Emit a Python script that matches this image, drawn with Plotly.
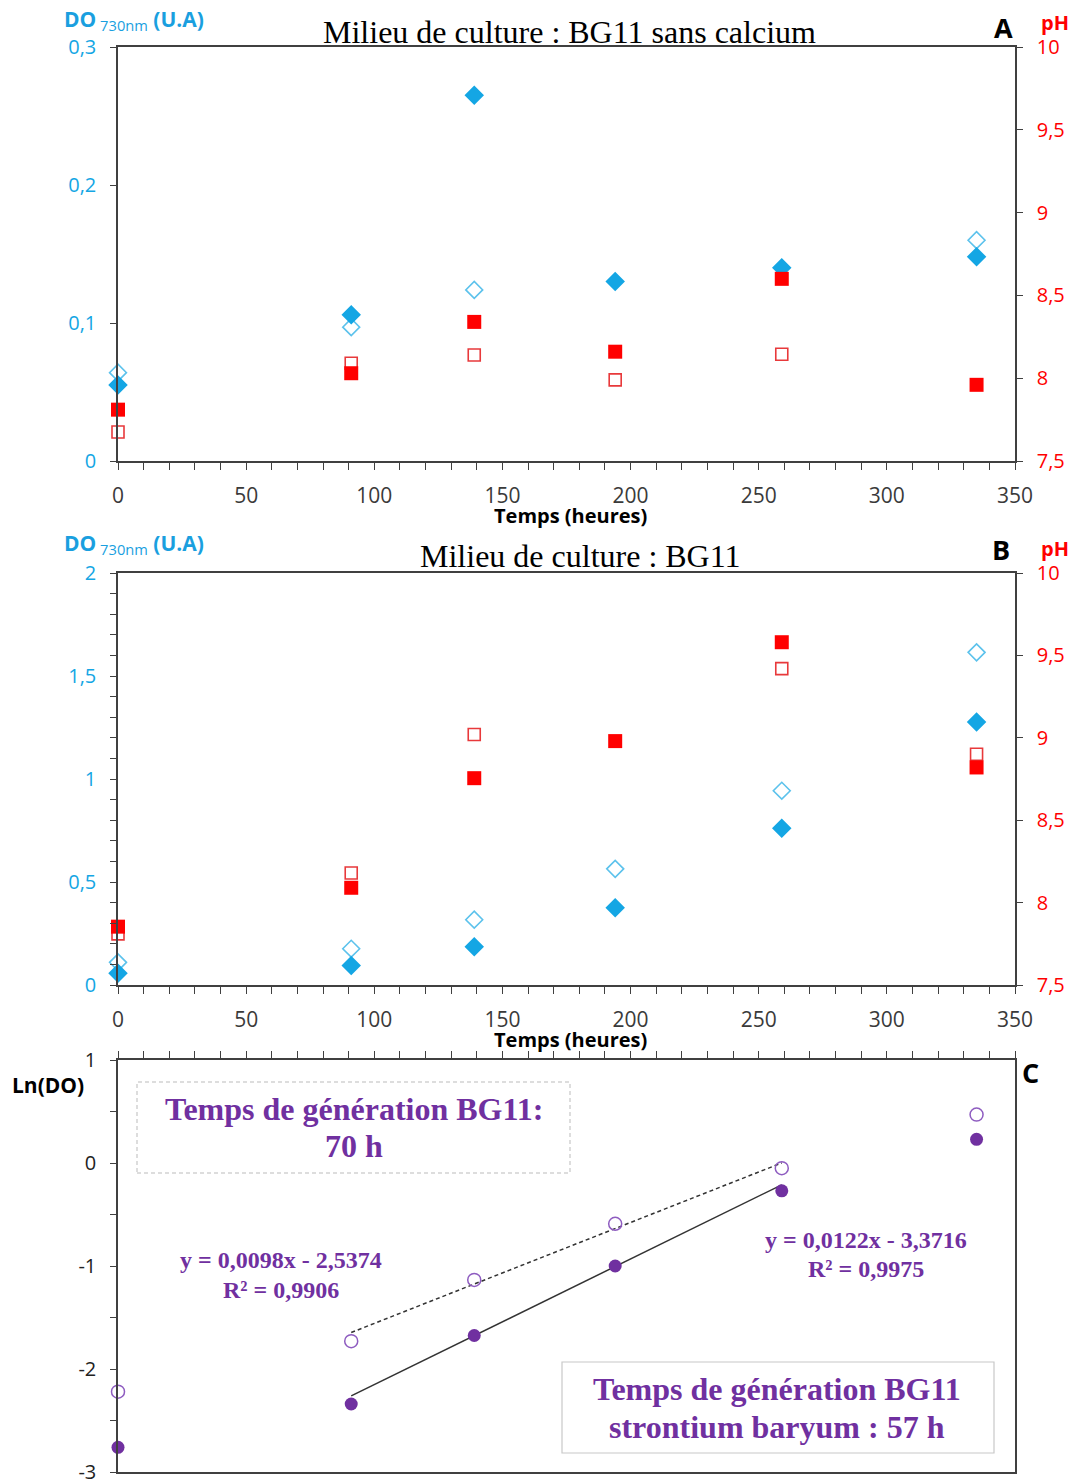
import plotly.graph_objects as go

# ---------------- data ----------------
time_h = [0, 91, 139, 194, 259, 335]

# Panel A : BG11 sans calcium
do_A_filled = [0.055, 0.106, 0.265, 0.130, 0.140, 0.148]
do_A_open = [0.064, 0.097, 0.124, None, None, 0.160]
ph_A_filled = [7.81, 8.03, 8.34, 8.16, 8.60, 7.96]
ph_A_open = [7.675, 8.09, 8.14, 7.99, 8.145, None]

# Panel B : BG11
do_B_filled = [0.057, 0.095, 0.186, 0.375, 0.761, 1.277]
do_B_open = [0.110, 0.176, 0.317, 0.564, 0.943, 1.615]
ph_B_filled = [7.854, 8.09, 8.755, 8.98, 9.58, 8.82]
ph_B_open = [7.81, 8.18, 9.02, None, 9.42, 8.90]

# Panel C : Ln(DO)
ln_open = [-2.22, -1.73, -1.135, -0.59, -0.05, 0.47]
ln_filled = [-2.76, -2.34, -1.675, -1.00, -0.27, 0.23]

# trend lines (from displayed equations), fitted on 91..259 h
fit_x = [91, 259]
slope_open, icpt_open = 0.0098, -2.5374
slope_filled, icpt_filled = 0.0122, -3.3716

x_ticks = [0, 50, 100, 150, 200, 250, 300, 350]
yA_ticks = [0, 0.1, 0.2, 0.3]
yA_text = ["0", "0,1", "0,2", "0,3"]
yB_ticks = [0, 0.5, 1, 1.5, 2]
yB_text = ["0", "0,5", "1", "1,5", "2"]
ph_ticks = [7.5, 8, 8.5, 9, 9.5, 10]
ph_text = ["7,5", "8", "8,5", "9", "9,5", "10"]
yC_ticks = [-3, -2, -1, 0, 1]
yC_text = ["-3", "-2", "-1", "0", "1"]

# ---------------- layout helpers ----------------
W, H = 1075, 1481
def px(x):
    return x / W
def py(y):
    return 1 - y / H

XL, XR = 118, 1015
A_T, A_B = 47, 461
B_T, B_B = 573, 985
C_T, C_B = 1060, 1472

BLUE = "#14A6E4"
BLUE_L = "#5CC2EC"
RED = "#FF0000"
RED_L = "#E8393B"
PURPLE = "#7030A0"
PURPLE_L = "#8E5CC0"
AX = "#404040"
SANS = "Open Sans"
SERIF = "Liberation Serif"

fig = go.Figure()

def dia(x, y, xa, ya, filled):
    fig.add_trace(go.Scatter(
        x=x, y=y, xaxis=xa, yaxis=ya, mode="markers", cliponaxis=False,
        showlegend=False,
        marker=dict(symbol="diamond" if filled else "diamond-open",
                    size=15 if filled else 13,
                    color=BLUE if filled else BLUE_L,
                    line=dict(width=0 if filled else 1.6,
                              color=BLUE if filled else BLUE_L))))

def sq(x, y, xa, ya, filled):
    fig.add_trace(go.Scatter(
        x=x, y=y, xaxis=xa, yaxis=ya, mode="markers", cliponaxis=False,
        showlegend=False,
        marker=dict(symbol="square" if filled else "square-open",
                    size=14 if filled else 12,
                    color=RED if filled else RED_L,
                    line=dict(width=0 if filled else 1.6,
                              color=RED if filled else RED_L))))

# Panel A
dia(time_h, do_A_open, "x", "y", False)
dia(time_h, do_A_filled, "x", "y", True)
sq(time_h, ph_A_open, "x", "y2", False)
sq(time_h, ph_A_filled, "x", "y2", True)
# Panel B
dia(time_h, do_B_open, "x2", "y3", False)
dia(time_h, do_B_filled, "x2", "y3", True)
sq(time_h, ph_B_open, "x2", "y4", False)
sq(time_h, ph_B_filled, "x2", "y4", True)

# Panel C trend lines
fig.add_trace(go.Scatter(
    x=fit_x, y=[slope_open * v + icpt_open for v in fit_x],
    xaxis="x3", yaxis="y5", mode="lines", showlegend=False,
    line=dict(color="#333333", width=1.5, dash="4px,3px")))
fig.add_trace(go.Scatter(
    x=fit_x, y=[slope_filled * v + icpt_filled for v in fit_x],
    xaxis="x3", yaxis="y5", mode="lines", showlegend=False,
    line=dict(color="#333333", width=1.5)))
fig.add_trace(go.Scatter(
    x=time_h, y=ln_open, xaxis="x3", yaxis="y5", mode="markers",
    cliponaxis=False, showlegend=False,
    marker=dict(symbol="circle-open", size=13, color=PURPLE_L,
                line=dict(width=1.5, color=PURPLE_L))))
fig.add_trace(go.Scatter(
    x=time_h, y=ln_filled, xaxis="x3", yaxis="y5", mode="markers",
    cliponaxis=False, showlegend=False,
    marker=dict(symbol="circle", size=13, color=PURPLE)))

line_kw = dict(showline=True, linecolor=AX, linewidth=1.5, showgrid=False,
               zeroline=False, ticks="outside", tickcolor=AX, tickwidth=1.3,
               ticklabeloverflow="allow")

def xaxis_bottom(anchor):
    return dict(domain=[px(XL), px(XR)], anchor=anchor, range=[0, 350],
                tickvals=x_ticks, ticktext=[str(v) for v in x_ticks],
                ticklen=7, mirror=True, ticklabelstandoff=8,
                minor=dict(dtick=10, tick0=0, ticks="outside", ticklen=7,
                           tickcolor=AX, tickwidth=1.3),
                tickfont=dict(family=SANS, size=21, color="#3a3a3a"),
                **line_kw)

fig.update_layout(
    width=W, height=H, margin=dict(l=0, r=0, t=0, b=0, autoexpand=False),
    paper_bgcolor="white", plot_bgcolor="white",
    xaxis=xaxis_bottom("y"),
    yaxis=dict(domain=[py(A_B), py(A_T)], anchor="x", range=[0, 0.3],
               tickvals=yA_ticks, ticktext=yA_text, ticklen=6,
               ticklabelstandoff=10,
               tickfont=dict(family=SANS, size=20, color=BLUE), **line_kw),
    yaxis2=dict(overlaying="y", side="right", anchor="x", range=[7.5, 10],
                tickvals=ph_ticks, ticktext=ph_text, ticklen=6,
                ticklabelstandoff=10,
                tickfont=dict(family=SANS, size=20, color=RED), **line_kw),
    xaxis2=xaxis_bottom("y3"),
    yaxis3=dict(domain=[py(B_B), py(B_T)], anchor="x2", range=[0, 2],
                tickvals=yB_ticks, ticktext=yB_text, ticklen=6,
                ticklabelstandoff=10,
                minor=dict(dtick=0.1, tick0=0, ticks="outside", ticklen=6,
                           tickcolor=AX, tickwidth=1.3),
                tickfont=dict(family=SANS, size=20, color=BLUE), **line_kw),
    yaxis4=dict(overlaying="y3", side="right", anchor="x2", range=[7.5, 10],
                tickvals=ph_ticks, ticktext=ph_text, ticklen=6,
                ticklabelstandoff=10,
                tickfont=dict(family=SANS, size=20, color=RED), **line_kw),
    xaxis3=dict(domain=[px(XL), px(XR)], anchor="y5", side="top",
                range=[0, 350], dtick=10, tick0=0, ticklen=7,
                showticklabels=False, mirror=True, **line_kw),
    yaxis5=dict(domain=[py(C_B), py(C_T)], anchor="x3", range=[-3, 1],
                tickvals=yC_ticks, ticktext=yC_text, ticklen=6,
                ticklabelstandoff=10, mirror=True,
                minor=dict(dtick=0.5, tick0=0, ticks="outside", ticklen=6,
                           tickcolor=AX, tickwidth=1.3),
                tickfont=dict(family=SANS, size=20, color="#222222"),
                **line_kw),
)

ann = []
def txt(x, y, text, size, color, family=SANS, xanchor="center", yanchor="middle", align="center"):
    ann.append(dict(x=px(x), y=py(y), xref="paper", yref="paper", text=text,
                    showarrow=False, xanchor=xanchor, yanchor=yanchor, align=align,
                    font=dict(family=family, size=size, color=color)))

# Panel titles and labels
txt(569, 32, "Milieu de culture : BG11 sans calcium", 32, "black", SERIF)
txt(580, 556, "Milieu de culture : BG11", 32, "black", SERIF)
for yy in (20, 544):
    txt(62, yy, "<b>DO</b><sub> 730nm</sub><b> (U.A)</b>", 21, "#1A9FDF", xanchor="left")
txt(1055, 23, "<b>pH</b>", 20, RED)
txt(1055, 548, "<b>pH</b>", 20, RED)
txt(1003, 28, "<b>A</b>", 27, "black")
txt(1001, 549, "<b>B</b>", 27, "black")
txt(1030, 1072, "<b>C</b>", 27, "black")
txt(570, 515, "<b>Temps (heures)</b>", 20, "black")
txt(570, 1039, "<b>Temps (heures)</b>", 20, "black")
txt(48, 1085, "<b>Ln(DO)</b>", 21, "black")

# Panel C texts
txt(354, 1109, "<b>Temps de génération BG11:</b>", 32, PURPLE, SERIF)
txt(354, 1146, "<b>70 h</b>", 32, PURPLE, SERIF)
txt(777, 1389, "<b>Temps de génération BG11</b>", 32, PURPLE, SERIF)
txt(777, 1427, "<b>strontium baryum : 57 h</b>", 32, PURPLE, SERIF)
txt(281, 1260, "<b>y = 0,0098x - 2,5374</b>", 24, PURPLE, SERIF)
txt(281, 1290, "<b>R² = 0,9906</b>", 24, PURPLE, SERIF)
txt(866, 1240, "<b>y = 0,0122x - 3,3716</b>", 24, PURPLE, SERIF)
txt(866, 1269, "<b>R² = 0,9975</b>", 24, PURPLE, SERIF)
fig.update_layout(annotations=ann)

fig.update_layout(shapes=[
    dict(type="rect", xref="paper", yref="paper",
         x0=px(137), x1=px(570), y0=py(1173), y1=py(1082),
         line=dict(color="#BBBBBB", width=1, dash="4px,3px")),
    dict(type="rect", xref="paper", yref="paper",
         x0=px(562), x1=px(994), y0=py(1453), y1=py(1362),
         line=dict(color="#C8C8C8", width=1.2)),
])

fig.write_html(
    "out.html",
    config={"displayModeBar": False},
    post_script="document.body.style.margin='0';document.body.style.padding='0';"
                "document.documentElement.style.overflow='hidden';"
)
